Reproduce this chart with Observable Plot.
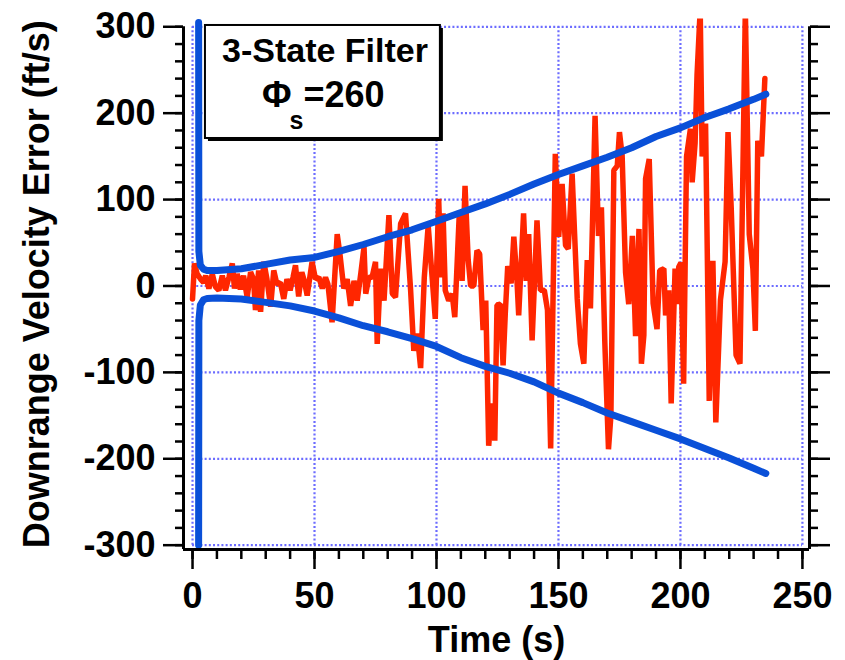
<!DOCTYPE html>
<html><head><meta charset="utf-8">
<script src="https://cdn.jsdelivr.net/npm/d3@7"></script>
<script src="https://cdn.jsdelivr.net/npm/@observablehq/plot@0.6"></script>
<style>body{margin:0;background:#fff;} svg{display:block}</style>
</head><body><div id="chart"></div>
<script>
// ---- data ----
const redT = [0.0,0.8,1.9,3.3,4.6,5.4,6.7,8.1,9.4,10.8,12.2,13.5,14.9,16.3,17.2,18.3,19.6,20.9,22.4,23.8,25.0,25.8,27.1,27.9,29.2,30.5,32.0,33.3,34.6,36.0,37.4,38.7,40.0,41.2,42.2,43.5,44.8,45.8,47.0,49.0,50.4,51.8,53.2,54.5,55.5,57.2,59.3,60.5,62.0,63.4,64.8,66.2,67.5,69.0,70.3,71.0,72.3,73.6,75.0,75.7,77.1,78.5,80.5,81.9,83.2,85.3,87.3,89.4,90.7,92.1,93.5,95.0,96.6,99.5,100.9,101.9,102.7,103.6,105.0,106.4,107.5,109.4,110.5,111.7,113.0,114.0,115.3,116.6,117.7,119.1,120.2,121.4,122.8,123.9,124.8,126.2,127.3,128.2,129.2,130.6,131.7,133.0,133.7,135.7,136.8,137.8,139.2,141.2,142.6,144.2,145.5,146.8,148.7,150.1,151.5,152.9,154.0,155.6,157.7,159.0,160.4,161.8,163.1,165.0,166.4,167.6,169.0,170.5,171.5,172.7,174.1,175.0,176.1,177.5,178.8,180.3,181.6,183.0,184.0,185.0,185.7,187.2,188.8,190.4,191.5,193.2,193.9,195.2,196.2,197.8,198.6,199.3,200.2,201.3,202.5,204.1,204.8,206.0,206.8,208.1,208.9,210.3,211.8,213.3,214.5,216.4,218.3,219.5,220.8,222.8,224.4,226.6,228.2,229.7,230.7,231.7,233.2,234.6];
const redV = [-15,26,14,8,4,12,-3,14,-1,-5,12,-5,10,26,-3,14,-4,12,-13,16,8,-28,18,-30,28,8,-24,18,2,4,-15,8,-5,10,24,-12,16,6,-11,28,8,10,-3,10,2,-42,60,35,-3,8,-23,6,-17,15,45,-9,10,10,28,-67,20,-17,82,-9,-13,72,84,-5,-75,-55,-95,10,70,-38,101,10,84,-5,-17,-9,-36,87,6,116,30,0,0,41,37,-51,-17,-185,-136,-179,-22,-21,-92,-32,23,3,57,6,-34,84,6,60,-63,76,-5,-5,-28,-188,153,57,118,47,43,130,-15,-67,-90,30,-26,197,58,91,-65,-189,-150,134,139,178,151,16,-21,58,-58,66,-90,-57,124,147,-20,-50,18,20,-34,-5,-136,20,-21,22,27,-113,150,182,120,165,244,320,150,188,-133,29,-158,-16,28,178,91,-80,-90,320,60,20,-52,168,150,240];
const boundT = [2.5,2.6,3.2,4.5,6,10,20,30,40,50,60,70,80,90,100,110,120,130,140,150,160,170,180,190,200,210,220,230,235];
const upperV = [305,40,24,19.5,18,18,20,25,30,33,40,48,57,65,75,85,95,106,118,129,139,149,160,173,183,195,205,216,222];
const lowerV = [-300,-40,-22,-16,-14.5,-14,-15,-19,-23,-29,-37,-46,-53,-61,-70,-83,-93,-101,-111,-124,-135,-147,-157,-167,-177,-188,-199,-211,-217];

const xTicks = [0,50,100,150,200,250];
const xMinor = [0,10,20,30,40,50,60,70,80,90,100,110,120,130,140,150,160,170,180,190,200,210,220,230,240,250];
const yTicks = [-300,-200,-100,0,100,200,300];
const yMinor = [-300,-280,-260,-240,-220,-200,-180,-160,-140,-120,-100,-80,-60,-40,-20,0,20,40,60,80,100,120,140,160,180,200,220,240,260,280,300];

const xTitle = "Time (s)";
const yTitle = "Downrange Velocity Error (ft/s)";
const boxTitle = "3-State Filter";
const boxPhi = "Φ";
const boxSub = "s";
const boxValue = "=260";

// ---- build ----
const red = redT.map((t, i) => ({t, v: redV[i]}));
const upper = boundT.map((t, i) => ({t, v: upperV[i]}));
const lower = boundT.map((t, i) => ({t, v: lowerV[i]}));

const xLo = -3.7, xHi = 252.9, yLo = -305, yHi = 309;
const FONT = "'Liberation Sans', Arial, Helvetica, sans-serif";
const gridColor = "#6c6cff";
const redColor = "#ff2600";
const blueColor = "#0a50d8";
const gridStyle = {stroke: gridColor, strokeWidth: 2.2, strokeDasharray: "2,2.2"};

const chart = Plot.plot({
  width: 845, height: 660,
  marginLeft: 183, marginRight: 36, marginTop: 18.5, marginBottom: 111,
  x: {domain: [xLo, xHi], label: null},
  y: {domain: [yLo, yHi], label: null},
  style: {fontFamily: FONT, background: "white", color: "black"},
  marks: [
    Plot.ruleX(xTicks, {y1: -300, y2: 300, ...gridStyle}),
    Plot.ruleY(yTicks, {x1: 0, x2: 250, ...gridStyle}),
    // annotation box
    Plot.rect([0], {x1: 5.3, x2: 101.6, y1: 170.7, y2: 301.5, fill: "black", dx: 3, dy: 3}),
    Plot.rect([0], {x1: 5.3, x2: 101.6, y1: 170.7, y2: 301.5, fill: "white", stroke: "black", strokeWidth: 2}),
    Plot.text([boxTitle], {text: d => d, x: 54.3, y: 258.7, fontSize: 34, fontWeight: "bold", lineAnchor: "bottom", textAnchor: "middle"}),
    Plot.text([boxPhi], {text: d => d, x: 28.5, y: 206.6, fontSize: 36, fontWeight: "bold", lineAnchor: "bottom", textAnchor: "start"}),
    Plot.text([boxSub], {text: d => d, x: 39.8, y: 182, fontSize: 25, fontWeight: "bold", lineAnchor: "bottom", textAnchor: "start"}),
    Plot.text([boxValue], {text: d => d, x: 45.5, y: 206.6, fontSize: 36, fontWeight: "bold", lineAnchor: "bottom", textAnchor: "start"}),
    // series
    Plot.line(red, {x: "t", y: "v", stroke: redColor, strokeWidth: 5.5, strokeLinejoin: "miter", clip: true}),
    Plot.line(upper, {x: "t", y: "v", stroke: blueColor, strokeWidth: 7, clip: true}),
    Plot.line(lower, {x: "t", y: "v", stroke: blueColor, strokeWidth: 7, clip: true}),
    // axes
    Plot.ruleX([xLo], {y1: yLo, y2: 300, stroke: "black", strokeWidth: 3}),
    Plot.ruleX([xHi], {y1: yLo, y2: 300, stroke: "black", strokeWidth: 3}),
    Plot.ruleY([yLo], {x1: xLo, x2: xHi, stroke: "black", strokeWidth: 3}),
    Plot.axisY(yTicks, {anchor: "left", tickSize: 20, tickPadding: 8, strokeWidth: 2.5, fontSize: 36, fontWeight: "bold", label: null, tickFormat: d => String(d)}),
    Plot.axisY(yMinor, {anchor: "left", tickSize: 8, strokeWidth: 2.5, label: null, tickFormat: () => ""}),
    Plot.axisY(yTicks, {anchor: "right", tickSize: 20, strokeWidth: 2.5, label: null, tickFormat: () => ""}),
    Plot.axisY(yMinor, {anchor: "right", tickSize: 8, strokeWidth: 2.5, label: null, tickFormat: () => ""}),
    Plot.axisX(xTicks, {anchor: "bottom", tickSize: 20, tickPadding: 13, strokeWidth: 2.5, fontSize: 36, fontWeight: "bold", label: null, tickFormat: d => String(d)}),
    Plot.axisX(xMinor, {anchor: "bottom", tickSize: 10, strokeWidth: 2.5, label: null, tickFormat: () => ""}),
    // titles
    Plot.text([xTitle], {text: d => d, frameAnchor: "bottom", dy: 102, lineAnchor: "bottom", textAnchor: "middle", fontSize: 36, fontWeight: "bold"}),
    Plot.text([yTitle], {text: d => d, frameAnchor: "left", dx: -146, rotate: -90, textAnchor: "middle", lineAnchor: "middle", fontSize: 36, fontWeight: "bold"})
  ]
});
document.getElementById("chart").appendChild(chart);
</script>
</body></html>
